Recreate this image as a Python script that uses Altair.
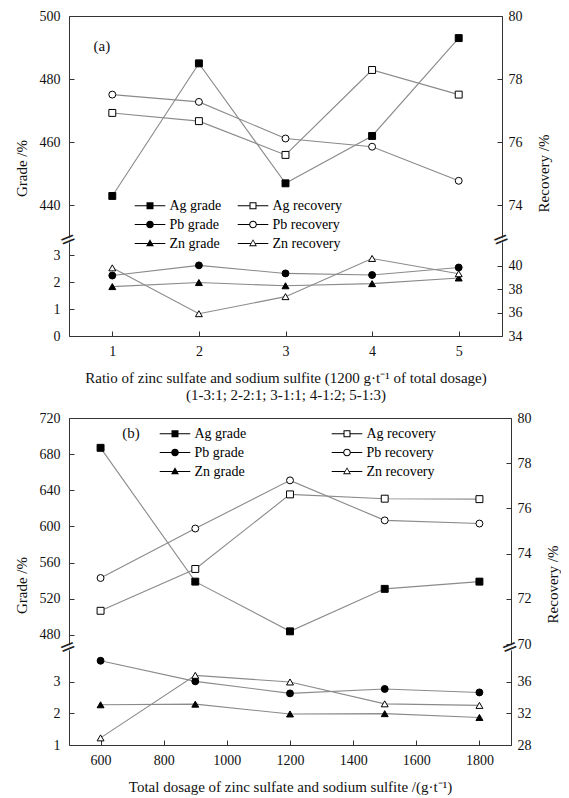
import altair as alt
import pandas as pd

# ---------------- data ----------------
series_names = ["Ag grade", "Pb grade", "Zn grade", "Ag recovery", "Pb recovery", "Zn recovery"]

a_x = [1, 2, 3, 4, 5]
a_ag_grade = [443, 485, 447, 462, 493]
a_pb_grade = [2.25, 2.63, 2.33, 2.27, 2.55]
a_zn_grade = [1.84, 1.99, 1.87, 1.95, 2.16]
a_ag_rec = [76.93, 76.67, 75.60, 78.29, 77.51]
a_pb_rec = [77.51, 77.28, 76.12, 75.86, 74.78]
a_zn_rec = [39.8, 35.9, 37.35, 40.6, 39.3]

b_x = [600, 900, 1200, 1500, 1800]
b_ag_grade = [687, 539, 484, 531, 539]
b_pb_grade = [3.66, 3.01, 2.63, 2.77, 2.66]
b_zn_grade = [2.27, 2.29, 1.98, 1.99, 1.87]
b_ag_rec = [71.47, 73.32, 76.62, 76.43, 76.41]
b_pb_rec = [72.92, 75.11, 77.24, 75.47, 75.33]
b_zn_rec = [28.9, 36.8, 35.96, 33.2, 33.0]

a_ticks = [1, 2, 3, 4, 5]
b_ticks = [600, 800, 1000, 1200, 1400, 1600, 1800]

a_title = ["Ratio of zinc sulfate and sodium sulfite (1200 g\u00b7t\u207b\u00b9 of total dosage)",
           "(1-3:1; 2-2:1; 3-1:1; 4-1:2; 5-1:3)"]
b_title = "Total dosage of zinc sulfate and sodium sulfite /(g\u00b7t\u207b\u00b9)"

# panel tag positions (data units)
a_tag = {"x": [0.88], "y": [490.5], "t": ["(a)"]}
b_tag = {"x": [696], "y": [703], "t": ["(b)"]}

FONT = "Liberation Serif"
LINE = "#8a8a8a"
AX = "#333333"

# legend symbol paths: line segment + marker, drawn as filled outlines
def seg(e):
    return f"M-1.8,-0.06H-{e}V0.06H-1.8ZM{e},-0.06H1.8V0.06H{e}Z"

sq_f = "M-0.41,-0.41H0.41V0.41H-0.41Z"
sq_h = sq_f + "M-0.29,-0.29V0.29H0.29V-0.29Z"
ci_f = "M-0.45,0A0.45,0.45,0,1,0,0.45,0A0.45,0.45,0,1,0,-0.45,0Z"
ci_h = ci_f + "M-0.33,0A0.33,0.33,0,1,1,0.33,0A0.33,0.33,0,1,1,-0.33,0Z"
tr_f = "M0,-0.5L0.46,0.32L-0.46,0.32Z"
tr_h = tr_f + "M0,-0.31L-0.3,0.22L0.3,0.22Z"
paths = [seg(0.41) + sq_f, seg(0.45) + ci_f, seg(0.28) + tr_f,
         seg(0.41) + sq_h, seg(0.45) + ci_h, seg(0.28) + tr_h]

TICK = {"expr": "-5"}


def yaxis(orient, values, title=None, title_y=None):
    kw = dict(orient=orient, values=values, tickSize=TICK, grid=False,
              labelPadding=14 if orient == "left" else 11,
              domainColor=AX, tickColor=AX, labelFont=FONT, labelFontSize=14,
              labelColor="#111", title=title)
    if title is not None:
        kw.update(titleFont=FONT, titleFontSize=15, titleFontWeight="normal",
                  titleColor="#111", titleY=title_y)
        if orient == "left":
            kw.update(titlePadding=10)
        else:
            kw.update(titleAngle=270, titleBaseline="top", titlePadding=14)
    return alt.Axis(**kw)


def xaxis_top():
    return alt.Axis(orient="top", labels=False, ticks=False, domain=True,
                    domainColor=AX, title=None, grid=False)


def xaxis_bottom(values, title):
    return alt.Axis(orient="bottom", values=values, tickSize=TICK, labelPadding=13,
                    domainColor=AX, tickColor=AX, grid=False, labelFont=FONT,
                    labelFontSize=14, labelColor="#111", title=title, format="d",
                    titleFont=FONT, titleFontSize=15, titleFontWeight="normal",
                    titleColor="#111", titlePadding=12, labelFlush=False)


def series(df, col, xs, xa, ys, ya, shape, filled):
    base = alt.Chart(df).encode(
        x=alt.X("x:Q", scale=xs, axis=xa),
        y=alt.Y(f"{col}:Q", scale=ys, axis=ya),
    )
    line = base.mark_line(color=LINE, strokeWidth=1.1)
    pts = base.mark_point(shape=shape, filled=True, fill="black" if filled else "white",
                          stroke="black", strokeWidth=1, size=48, opacity=1)
    return [line, pts]


def legend_layer(df, col, xs, xa, ys, ya, lx, ly, colpad):
    d = df.assign(series="Ag grade")
    leg = alt.Legend(orient="none", legendX=lx, legendY=ly, columns=2,
                     columnPadding=colpad, rowPadding=3, symbolSize=289,
                     symbolFillColor="black", symbolStrokeWidth=0,
                     symbolOpacity=1, labelFont=FONT, labelFontSize=14,
                     labelColor="black", labelOffset=11, title=None,
                     padding=0, labelLimit=300)
    return alt.Chart(d).mark_point(filled=True, color="black", opacity=0).encode(
        x=alt.X("x:Q", scale=xs, axis=xa),
        y=alt.Y(f"{col}:Q", scale=ys, axis=ya),
        shape=alt.Shape("series:N", scale=alt.Scale(domain=series_names, range=paths), legend=leg),
    )


def tag_layer(tag, xs, xa, ys, ya):
    return alt.Chart(pd.DataFrame(tag)).mark_text(
        font=FONT, fontSize=15, color="#111", align="center", baseline="middle"
    ).encode(x=alt.X("x:Q", scale=xs, axis=xa), y=alt.Y("y:Q", scale=ys, axis=ya), text="t:N")


def break_layer(xdom, ymax, xs, xa, ys, ya, dy):
    d = pd.DataFrame({"x": xdom, "y": [ymax, ymax]})
    return alt.Chart(d).mark_text(text="=", font="DejaVu Sans", fontSize=20, angle=338,
                                  color="#222", dy=dy, align="center", baseline="middle").encode(
        x=alt.X("x:Q", scale=xs, axis=xa), y=alt.Y("y:Q", scale=ys, axis=ya))


def panel(xv, d, xdom, xticks, xtitle, top_l, top_r, bot_l, bot_r, w, ht, hb, gap,
          tag, leg_pos, colpad, ttl_l, ttl_r):
    df = pd.DataFrame({"x": xv, "ag_g": d[0], "pb_g": d[1], "zn_g": d[2],
                       "ag_r": d[3], "pb_r": d[4], "zn_r": d[5]})
    H = ht + gap + hb
    xs = alt.Scale(domain=xdom, nice=False, zero=False)
    xa_t = xaxis_top()
    xa_b = xaxis_bottom(xticks, xtitle)
    # upper section scales (pixel band 0..ht), lower section (ht+gap..H)
    sl = alt.Scale(domain=top_l[0], range=[ht, 0], nice=False, zero=False)
    sr = alt.Scale(domain=top_r[0], range=[ht, 0], nice=False, zero=False)
    bl = alt.Scale(domain=bot_l[0], range=[H, ht + gap], nice=False, zero=False)
    br = alt.Scale(domain=bot_r[0], range=[H, ht + gap], nice=False, zero=False)
    al = yaxis("left", top_l[1], "Grade /%", ttl_l)
    ar = yaxis("right", top_r[1], "Recovery /%", ttl_r)
    bal = yaxis("left", bot_l[1])
    bar = yaxis("right", bot_r[1])

    tl = alt.layer(
        *series(df, "ag_g", xs, xa_t, sl, al, "square", True),
        tag_layer(tag, xs, xa_t, sl, al),
        legend_layer(df, "ag_g", xs, xa_t, sl, al, leg_pos[0], leg_pos[1], colpad),
    )
    tr = alt.layer(
        *series(df, "ag_r", xs, None, sr, ar, "square", False),
        *series(df, "pb_r", xs, None, sr, ar, "circle", False),
    )
    bll = alt.layer(
        *series(df, "pb_g", xs, xa_b, bl, bal, "circle", True),
        *series(df, "zn_g", xs, xa_b, bl, bal, "triangle-up", True),
        break_layer(xdom, bot_l[0][1], xs, xa_b, bl, bal, -gap / 2.0),
    )
    brr = alt.layer(
        *series(df, "zn_r", xs, None, br, bar, "triangle-up", False),
    )
    return alt.layer(tl, tr, bll, brr).resolve_scale(y="independent").resolve_axis(
        x="independent", y="independent").properties(width=w, height=H)


pa = panel(a_x, [a_ag_grade, a_pb_grade, a_zn_grade, a_ag_rec, a_pb_rec, a_zn_rec],
           [0.5, 5.5], a_ticks, a_title,
           ([430, 500], [440, 460, 480, 500]), ([73, 80], [74, 76, 78, 80]),
           ([0, 3.5], [0, 1, 2, 3]), ([34, 42], [34, 36, 38, 40]),
           433, 221, 94, 5, a_tag, (72.5, 181), 16, 152, 157)

pb = panel(b_x, [b_ag_grade, b_pb_grade, b_zn_grade, b_ag_rec, b_pb_rec, b_zn_rec],
           [500, 1900], b_ticks, b_title,
           ([470, 720], [480, 520, 560, 600, 640, 680, 720]), ([70, 80], [70, 72, 74, 76, 78, 80]),
           ([1, 4], [1, 2, 3]), ([28, 40], [28, 32, 36]),
           442, 226, 95, 6, b_tag, (97.5, 7), 85, 167, 166)

chart = alt.vconcat(pa, pb, spacing=7).resolve_scale(
    shape="independent").resolve_legend(shape="independent").properties(
    padding={"left": 5, "top": 0, "right": 0, "bottom": 0}
).configure_view(stroke=None).configure_axis(
    labelFont=FONT, titleFont=FONT, titleFontWeight="normal"
).configure(font=FONT, background="white")

chart.save("out.html", embed_options={"renderer": "svg", "actions": False})
